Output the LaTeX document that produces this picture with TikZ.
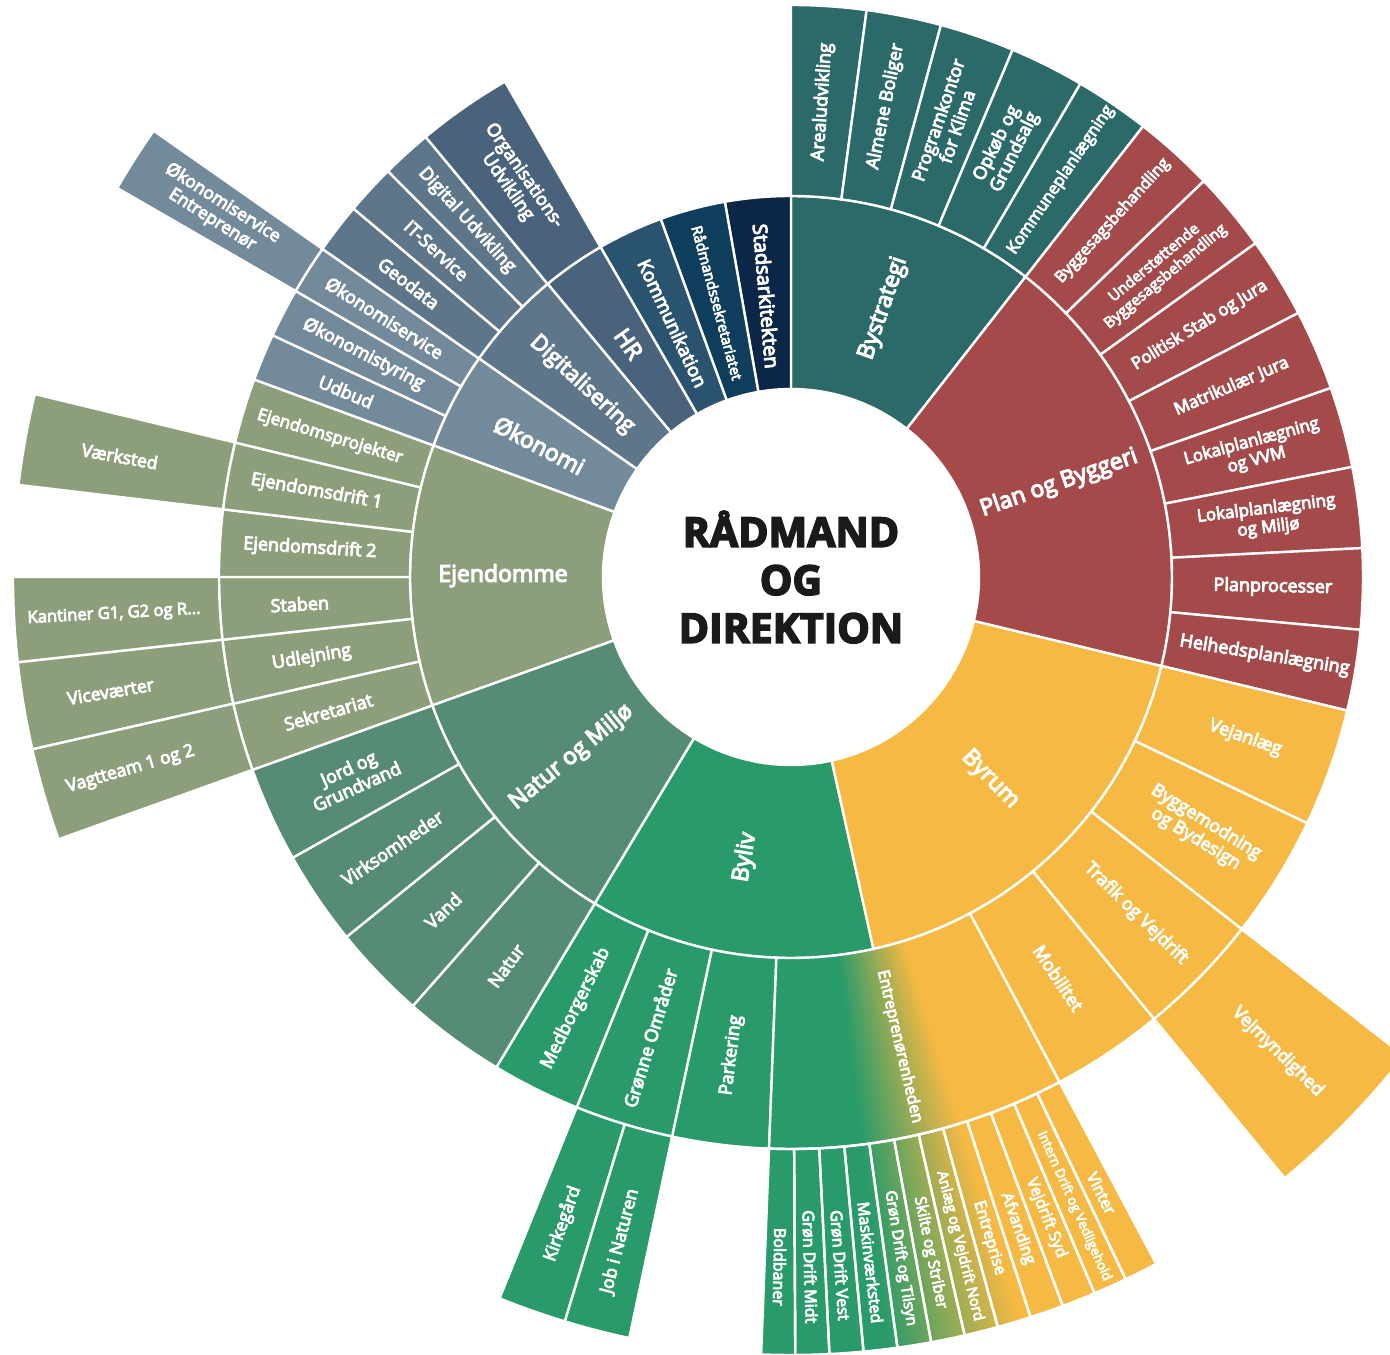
\documentclass[tikz,border=0pt]{standalone}
\usepackage{fontspec}
\setmainfont{Open Sans}[BoldFeatures={FakeBold=4}]
\newfontfamily\lblfont{Open Sans}[FakeBold=5]
\usepackage{xcolor}
\usepackage{tikz}

\definecolor{bystrat}{RGB}{44,106,105}
\definecolor{planbyg}{RGB}{165,74,74}
\definecolor{byrum}{RGB}{245,185,68}
\definecolor{byliv}{RGB}{41,155,106}
\definecolor{naturm}{RGB}{86,140,115}
\definecolor{ejendom}{RGB}{140,158,122}
\definecolor{oekonomi}{RGB}{115,138,155}
\definecolor{digital}{RGB}{94,118,137}
\definecolor{hrblue}{RGB}{72,99,123}
\definecolor{kommunik}{RGB}{42,83,112}
\definecolor{raadsekr}{RGB}{15,61,92}
\definecolor{stadsark}{RGB}{11,38,70}
\definecolor{titletext}{RGB}{26,26,26}

% radii of the rings
\newcommand{\rA}{94pt}
\newcommand{\rB}{190.5pt}
\newcommand{\rC}{286pt}
\newcommand{\rD}{389pt}

% ring segment: start angle, end angle, inner radius, outer radius, options
\newcommand{\sunseg}[5]{%
  \path[#5] (#1:#3) arc[start angle=#1, end angle=#2, radius=#3]
    -- (#2:#4) arc[start angle=#2, end angle=#1, radius=#4] -- cycle;}

\tikzset{
  seg/.style={fill=#1, draw=white, line width=1.2pt},
  outl/.style={draw=white, line width=1.2pt},
  lone/.style={text=white, align=center, inner sep=1pt, font=\lblfont\fontsize{11.5}{13}\selectfont},
  ltwo/.style={text=white, align=center, inner sep=1pt, font=\lblfont\fontsize{9}{10}\selectfont},
  lthree/.style={text=white, align=center, inner sep=1pt, font=\lblfont\fontsize{8.8}{9.8}\selectfont},
}

\begin{document}
\begin{tikzpicture}
  \useasboundingbox (-395.5pt,-388.5pt) rectangle (299.5pt,288.5pt);
  \clip (-395.5pt,-388.5pt) rectangle (299.5pt,288.5pt);

  % inner ring
  \sunseg{52}{90}{\rA}{\rB}{seg=bystrat}
  \sunseg{90}{100}{\rA}{\rB}{seg=stadsark}
  \sunseg{100}{110}{\rA}{\rB}{seg=raadsekr}
  \sunseg{110}{120}{\rA}{\rB}{seg=kommunik}
  \sunseg{120}{129.7}{\rA}{\rB}{seg=hrblue}
  \sunseg{129.7}{145}{\rA}{\rB}{seg=digital}
  \sunseg{145}{159.8}{\rA}{\rB}{seg=oekonomi}
  \sunseg{159.8}{199.7}{\rA}{\rB}{seg=ejendom}
  \sunseg{199.7}{239}{\rA}{\rB}{seg=naturm}
  \sunseg{239}{282.5}{\rA}{\rB}{seg=byliv}
  \sunseg{282.5}{346.5}{\rA}{\rB}{seg=byrum}
  \sunseg{346.5}{412}{\rA}{\rB}{seg=planbyg}

  % second ring - Bystrategi
  \sunseg{82.4}{90}{\rB}{\rC}{seg=bystrat}
  \sunseg{74.8}{82.4}{\rB}{\rC}{seg=bystrat}
  \sunseg{67.2}{74.8}{\rB}{\rC}{seg=bystrat}
  \sunseg{59.6}{67.2}{\rB}{\rC}{seg=bystrat}
  \sunseg{52}{59.6}{\rB}{\rC}{seg=bystrat}
  % Plan og Byggeri
  \sunseg{43.8}{52}{\rB}{\rC}{seg=planbyg}
  \sunseg{35.7}{43.8}{\rB}{\rC}{seg=planbyg}
  \sunseg{27.5}{35.7}{\rB}{\rC}{seg=planbyg}
  \sunseg{19.3}{27.5}{\rB}{\rC}{seg=planbyg}
  \sunseg{11.1}{19.3}{\rB}{\rC}{seg=planbyg}
  \sunseg{2.9}{11.1}{\rB}{\rC}{seg=planbyg}
  \sunseg{-5.3}{2.9}{\rB}{\rC}{seg=planbyg}
  \sunseg{-13.5}{-5.3}{\rB}{\rC}{seg=planbyg}
  % Byrum
  \sunseg{-25.5}{-13.5}{\rB}{\rC}{seg=byrum}
  \sunseg{-38}{-25.5}{\rB}{\rC}{seg=byrum}
  \sunseg{-50.6}{-38}{\rB}{\rC}{seg=byrum}
  \sunseg{-62}{-50.6}{\rB}{\rC}{seg=byrum}
  % Byliv
  \sunseg{-102}{-92.2}{\rB}{\rC}{seg=byliv}
  \sunseg{-112}{-102}{\rB}{\rC}{seg=byliv}
  \sunseg{-121}{-112}{\rB}{\rC}{seg=byliv}
  % Natur og Miljoe
  \sunseg{228.6}{239}{\rB}{\rC}{seg=naturm}
  \sunseg{219}{228.6}{\rB}{\rC}{seg=naturm}
  \sunseg{209.4}{219}{\rB}{\rC}{seg=naturm}
  \sunseg{199.7}{209.4}{\rB}{\rC}{seg=naturm}
  % Ejendomme
  \sunseg{192.8}{199.7}{\rB}{\rC}{seg=ejendom}
  \sunseg{186.3}{192.8}{\rB}{\rC}{seg=ejendom}
  \sunseg{180}{186.3}{\rB}{\rC}{seg=ejendom}
  \sunseg{173.2}{180}{\rB}{\rC}{seg=ejendom}
  \sunseg{166.4}{173.2}{\rB}{\rC}{seg=ejendom}
  \sunseg{159.8}{166.4}{\rB}{\rC}{seg=ejendom}
  % Oekonomi, Digitalisering, HR
  \sunseg{155}{159.8}{\rB}{\rC}{seg=oekonomi}
  \sunseg{150}{155}{\rB}{\rC}{seg=oekonomi}
  \sunseg{145}{150}{\rB}{\rC}{seg=oekonomi}
  \sunseg{139.9}{145}{\rB}{\rC}{seg=digital}
  \sunseg{134.8}{139.9}{\rB}{\rC}{seg=digital}
  \sunseg{129.7}{134.8}{\rB}{\rC}{seg=digital}
  \sunseg{120}{129.7}{\rB}{\rC}{seg=hrblue}

  % outer ring
  \sunseg{166.4}{173.2}{\rC}{\rD}{seg=ejendom}
  \sunseg{180}{186.3}{\rC}{\rD}{seg=ejendom}
  \sunseg{186.3}{192.8}{\rC}{\rD}{seg=ejendom}
  \sunseg{192.8}{199.7}{\rC}{\rD}{seg=ejendom}
  \sunseg{145}{150}{\rC}{\rD}{seg=oekonomi}
  \sunseg{-50.6}{-38}{\rC}{\rD}{seg=byrum}
  \sunseg{-112}{-106.9}{\rC}{\rD}{seg=byliv}
  \sunseg{-106.9}{-102}{\rC}{\rD}{seg=byliv}

  % Entreprenoerenheden, green to yellow
  \sunseg{-92.2}{-62}{\rB}{\rD}{fill=byliv}
  \foreach \a in {-83,-82.75,...,-73}{
    \pgfmathsetmacro{\mixpct}{(\a+83)*10}
    \sunseg{\a}{-62}{\rB}{\rD}{fill=byrum!\mixpct!byliv}
  }
  \sunseg{-92.2}{-62}{\rB}{\rC}{outl}
  \foreach \txt/\fs [count=\i from 0] in {Boldbaner/8, Grøn Drift Midt/8,
      Grøn Drift Vest/8, Maskinværksted/8, Grøn Drift og Tilsyn/7.6,
      Skilte og Striber/7.8, Anlæg og Vejdrift Nord/7.3, Entreprise/8,
      Afvanding/8, Vejdrift Syd/8, Intern Drift og Vedligehold/6.6, Vinter/8}{
    \pgfmathsetmacro{\aone}{-92.2+\i*2.5167}
    \pgfmathsetmacro{\atwo}{\aone+2.5167}
    \pgfmathsetmacro{\amid}{\aone+1.2583}
    \sunseg{\aone}{\atwo}{\rC}{\rD}{outl}
    \node[lthree, font=\lblfont\fontsize{\fs}{\fs}\selectfont, rotate=\amid] (ent\i) at (\amid:345pt) {\txt};
  }

  % centre
  \node[text=titletext, align=center, font=\fontsize{20.5}{24}\selectfont\bfseries] (title) at (0,0) {RÅDMAND\\OG\\DIREKTION};

  % labels, inner ring
  \node[lone, rotate=71] (bystrategi) at (71:142pt) {Bystrategi};
  \node[lone, font=\lblfont\fontsize{10}{11}\selectfont, rotate=-85] (stadsark) at (95:141pt) {Stadsarkitekten};
  \node[lone, font=\lblfont\fontsize{7.3}{8}\selectfont, rotate=-75] (raadsekr) at (105:142pt) {Rådmandssekretariatet};
  \node[lone, font=\lblfont\fontsize{9.3}{10}\selectfont, rotate=-65] (kommunik) at (115:140pt) {Kommunikation};
  \node[lone, rotate=-55] (hr) at (124.85:142pt) {HR};
  \node[lone, font=\lblfont\fontsize{11}{12}\selectfont, rotate=-42.6] (digital) at (137.35:142pt) {Digitalisering};
  \node[lone, rotate=-27.6] (oekonomi) at (152.4:142pt) {Økonomi};
  \node[lone] (ejendomme) at (179.75:144pt) {Ejendomme};
  \node[lone, rotate=39.35] (naturmiljoe) at (219.35:142pt) {Natur og Miljø};
  \node[lone, rotate=80.75] (byliv) at (260.75:142pt) {Byliv};
  \node[lone, rotate=-45.5] (byrum) at (-45.5:142pt) {Byrum};
  \node[lone, rotate=19.25] (planbyggeri) at (19.25:142pt) {Plan og Byggeri};

  % labels, second ring
  \node[ltwo, rotate=86.2] (arealudv) at (86.2:238pt) {Arealudvikling};
  \node[ltwo, rotate=78.6] (almene) at (78.6:240pt) {Almene Boliger};
  \node[ltwo, rotate=71] (programk) at (71:240pt) {Programkontor\\for Klima};
  \node[ltwo, rotate=63.4] (opkoeb) at (63.4:240pt) {Opkøb og\\Grundsalg};
  \node[ltwo, font=\lblfont\fontsize{8.3}{9}\selectfont, rotate=55.8] (kommunepl) at (55.8:240pt) {Kommuneplanlægning};
  \node[ltwo, font=\lblfont\fontsize{8}{9}\selectfont, rotate=47.9] (byggesag) at (47.9:240pt) {Byggesagsbehandling};
  \node[ltwo, font=\lblfont\fontsize{7.6}{8.8}\selectfont, rotate=39.75] (understoet) at (39.75:240pt) {Understøttende\\Byggesagsbehandling};
  \node[ltwo, font=\lblfont\fontsize{8.5}{9.5}\selectfont, rotate=31.6] (politisk) at (31.6:240pt) {Politisk Stab og Jura};
  \node[ltwo, font=\lblfont\fontsize{8.5}{9.5}\selectfont, rotate=23.4] (matrikul) at (23.4:240pt) {Matrikulær Jura};
  \node[ltwo, font=\lblfont\fontsize{8.5}{9.5}\selectfont, rotate=15.2] (lokalvvm) at (15.2:240pt) {Lokalplanlægning\\og VVM};
  \node[ltwo, font=\lblfont\fontsize{8.5}{9.5}\selectfont, rotate=7] (lokalmiljoe) at (7:240pt) {Lokalplanlægning\\og Miljø};
  \node[ltwo, rotate=-1.2] (planproc) at (-1.2:241pt) {Planprocesser};
  \node[ltwo, rotate=-9.4] (helheds) at (-9.4:240pt) {Helhedsplanlægning};
  \node[ltwo, rotate=-19.5] (vejanlaeg) at (-19.5:241pt) {Vejanlæg};
  \node[ltwo, rotate=-31.75] (byggemod) at (-31.75:241pt) {Byggemodning\\og Bydesign};
  \node[ltwo, rotate=-44.3] (trafik) at (-44.3:241pt) {Trafik og Vejdrift};
  \node[ltwo, rotate=-56.3] (mobilitet) at (-56.3:241pt) {Mobilitet};
  \node[ltwo, font=\lblfont\fontsize{8}{9}\selectfont, rotate=-77] (entrepr) at (-77:241pt) {Entreprenørenheden};
  \node[ltwo, rotate=82.9] (parkering) at (-97.1:241pt) {Parkering};
  \node[ltwo, rotate=73] (groenne) at (-107:241pt) {Grønne Områder};
  \node[ltwo, rotate=63.5] (medborger) at (-116.5:241pt) {Medborgerskab};
  \node[ltwo, rotate=53.8] (natur) at (233.8:241pt) {Natur};
  \node[ltwo, rotate=43.8] (vand) at (223.8:241pt) {Vand};
  \node[ltwo, rotate=34.2] (virksomh) at (214.2:241pt) {Virksomheder};
  \node[ltwo, rotate=24.55] (jord) at (204.55:241pt) {Jord og\\Grundvand};
  \node[ltwo, rotate=16.25] (sekretariat) at (196.25:241pt) {Sekretariat};
  \node[ltwo, rotate=9.55] (udlejning) at (189.55:243pt) {Udlejning};
  \node[ltwo, rotate=3.15] (staben) at (183.15:246pt) {Staben};
  \node[ltwo, rotate=-3.4] (ejdrift2) at (176.6:241pt) {Ejendomsdrift 2};
  \node[ltwo, rotate=-10.2] (ejdrift1) at (169.8:241pt) {Ejendomsdrift 1};
  \node[ltwo, font=\lblfont\fontsize{8.5}{9.5}\selectfont, rotate=-16.9] (ejprojekt) at (163.1:241pt) {Ejendomsprojekter};
  \node[ltwo, rotate=-22.6] (udbud) at (157.4:241pt) {Udbud};
  \node[ltwo, rotate=-27.5] (oekstyring) at (152.5:241pt) {Økonomistyring};
  \node[ltwo, rotate=-32.5] (oekservice) at (147.5:241pt) {Økonomiservice};
  \node[ltwo, rotate=-37.55] (geodata) at (142.45:241pt) {Geodata};
  \node[ltwo, rotate=-42.65] (itservice) at (137.35:241pt) {IT-Service};
  \node[ltwo, rotate=-47.75] (digudv) at (132.25:241pt) {Digital Udvikling};
  \node[ltwo, rotate=-55.15] (orgudv) at (124.85:241pt) {Organisations-\\Udvikling};

  % labels, outer ring
  \node[lthree, rotate=-10.2] (vaerksted) at (169.8:341pt) {Værksted};
  \node[lthree, font=\lblfont\fontsize{8.3}{9}\selectfont, rotate=3.15] (kantiner) at (183.15:339pt) {Kantiner G1, G2 og R...};
  \node[lthree, rotate=9.55] (vicevaert) at (189.55:345pt) {Viceværter};
  \node[lthree, rotate=16.25] (vagtteam) at (196.25:344pt) {Vagtteam 1 og 2};
  \node[lthree, rotate=-32.5] (oekentr) at (147.5:340pt) {Økonomiservice\\Entreprenør};
  \node[lthree, font=\lblfont\fontsize{9}{10}\selectfont, rotate=-44.3] (vejmynd) at (-44.3:340pt) {Vejmyndighed};
  \node[lthree, rotate=70.55] (kirkegaard) at (-109.45:343pt) {Kirkegård};
  \node[lthree, rotate=75.55] (jobnatur) at (-104.45:343pt) {Job i Naturen};
\end{tikzpicture}
\end{document}
